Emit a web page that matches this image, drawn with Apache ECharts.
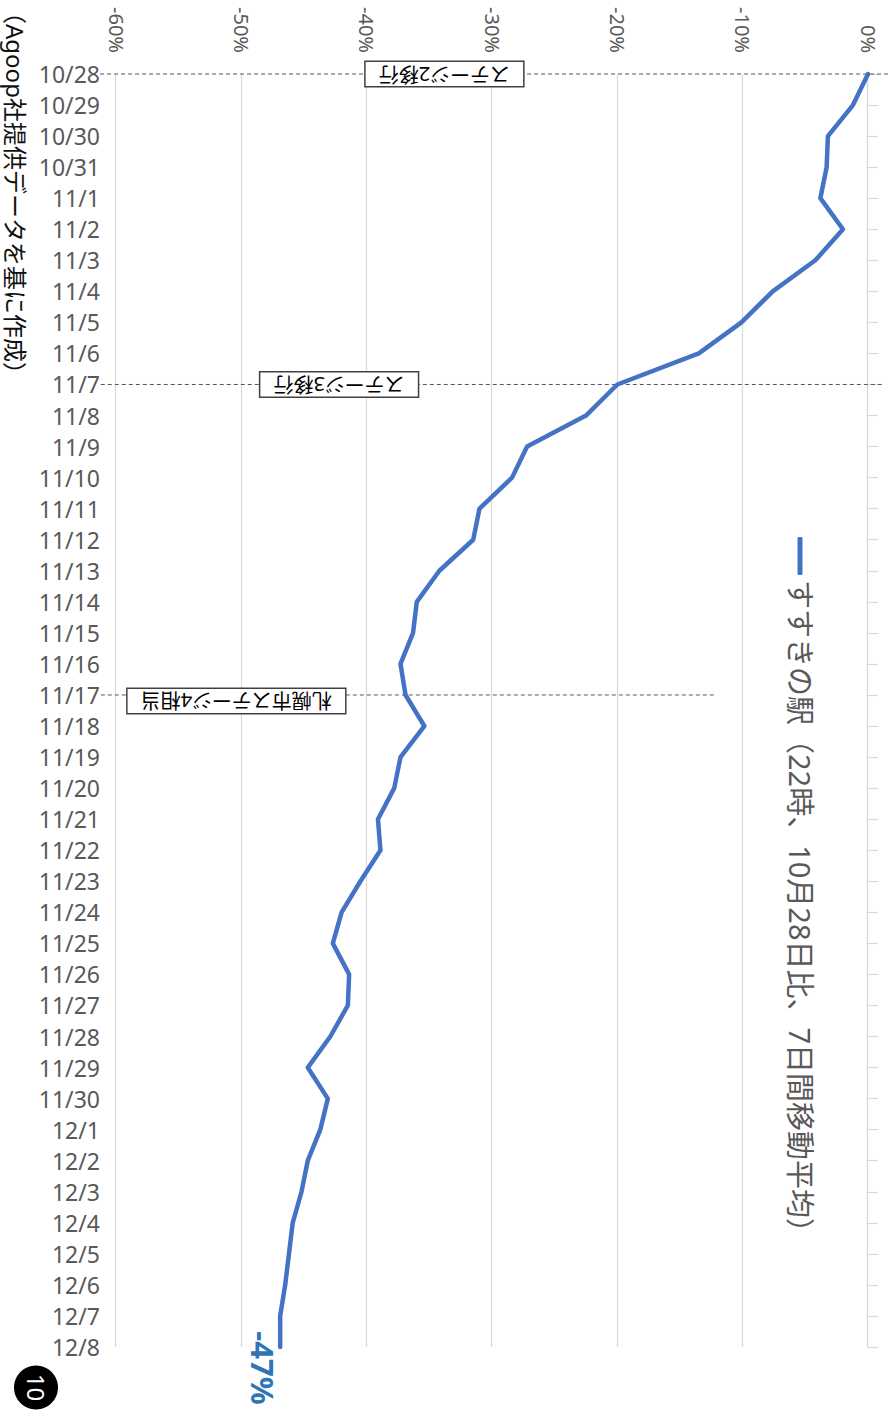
<!DOCTYPE html>
<html><head><meta charset="utf-8">
<script src="https://cdn.jsdelivr.net/npm/echarts@6/dist/echarts.min.js"></script>
<style>
html,body{margin:0;padding:0;width:888px;height:1423px;overflow:hidden;background:#fff;}
#chart{position:absolute;left:0;top:0;width:1423px;height:888px;transform-origin:0 0;transform:translate(888px,0) rotate(90deg);}
</style></head><body><div id="chart"></div>
<script>
// ---- data ----
const categories = ['10/28','10/29','10/30','10/31','11/1','11/2','11/3','11/4','11/5','11/6','11/7','11/8','11/9','11/10','11/11','11/12','11/13','11/14','11/15','11/16','11/17','11/18','11/19','11/20','11/21','11/22','11/23','11/24','11/25','11/26','11/27','11/28','11/29','11/30','12/1','12/2','12/3','12/4','12/5','12/6','12/7','12/8'];
const values = [0,-1.2,-3.2,-3.3,-3.8,-2.0,-4.2,-7.6,-10.1,-13.5,-20.0,-22.5,-27.2,-28.4,-31.0,-31.5,-34.2,-36.0,-36.3,-37.3,-36.9,-35.4,-37.3,-37.8,-39.1,-38.9,-40.5,-42.0,-42.7,-41.4,-41.5,-42.9,-44.7,-43.1,-43.7,-44.7,-45.2,-45.9,-46.2,-46.5,-46.9,-46.9];
const seriesName = 'すすきの駅（22時、10月28日比、7日間移動平均）';
const valueMin = -60, valueMax = 0, valueStep = 10;
const phaseDates = ['10/28','11/7','11/17'];
const phaseLabels = ['ステージ2移行','ステージ3移行','札幌市ステージ4相当'];
const sourceNote = '（Agoop社提供データを基に作成）';
const pageNumber = '10';

// ---- layout / style ----
const FONT = "'Noto Sans', 'Noto Sans CJK JP', sans-serif";
const phaseLayout = [
  {from: 1.6, to: -61.3, boxAt: -33.8, dx: 0},
  {from: 1.1, to: -61.3, boxAt: -42.2, dx: 0},
  {from: -12.3, to: -61.3, boxAt: -50.4, dx: 6}
];

const chart = echarts.init(document.getElementById('chart'), null, {renderer: 'svg', width: 1423, height: 888});

const lastIdx = values.length - 1;
const seriesData = values.map((v, i) => i === lastIdx ? {
  value: v,
  label: {show: true, position: 'bottom', distance: 2, offset: [21, 0],
    formatter: p => Math.round(p.value) + '%', fontSize: 31, fontWeight: 'bold',
    color: '#2e75b6', fontFamily: FONT}
} : v);

chart.setOption({
  animation: false,
  backgroundColor: '#fff',
  textStyle: {fontFamily: FONT},
  grid: {left: 74, right: 76, top: 20, bottom: 116, containLabel: false},
  legend: {
    left: 537, top: 71, padding: 0, icon: 'roundRect', itemWidth: 38, itemHeight: 5, itemGap: 10,
    textStyle: {fontSize: 29, color: '#595959', fontFamily: FONT, lineHeight: 34},
    data: [seriesName]
  },
  xAxis: [
    {type: 'category', data: categories, position: 'top', boundaryGap: false,
     axisLine: {show: true, lineStyle: {color: '#d9d9d9', width: 1.2}},
     axisTick: {show: true, length: 10, interval: 0, lineStyle: {color: '#d9d9d9', width: 1.2}},
     axisLabel: {show: false}, splitLine: {show: false}},
    {type: 'category', data: categories, position: 'bottom', boundaryGap: false,
     axisLine: {show: false, onZero: false}, axisTick: {show: false},
     axisLabel: {show: true, interval: 0, rotate: 90, margin: 16, fontSize: 23, color: '#595959', fontFamily: FONT},
     splitLine: {show: false}}
  ],
  yAxis: {
    type: 'value', min: valueMin, max: valueMax, interval: valueStep,
    axisLine: {show: false}, axisTick: {show: false},
    axisLabel: {formatter: '{value}%', fontSize: 20, color: '#595959', margin: 21, fontFamily: FONT},
    splitLine: {show: true, lineStyle: {color: '#d9d9d9', width: 1.2}}
  },
  series: [{
    type: 'line', name: seriesName, xAxisIndex: 0, yAxisIndex: 0,
    data: seriesData, symbol: 'circle', symbolSize: 0, showSymbol: true,
    lineStyle: {color: '#4472c4', width: 4.5, cap: 'round', join: 'round'},
    itemStyle: {color: '#4472c4'}, z: 5
  }]
});

const toPx = (cat, v) => chart.convertToPixel({seriesIndex: 0}, [categories.indexOf(cat), v]);
const graphics = [];
phaseDates.forEach((d, i) => {
  const L = phaseLayout[i];
  const p1 = toPx(d, L.from), p2 = toPx(d, L.to), pb = toPx(d, L.boxAt);
  graphics.push({type: 'line', z: 1, shape: {x1: p1[0], y1: p1[1], x2: p2[0], y2: p2[1]},
    style: {stroke: '#595959', lineWidth: 1, lineDash: [4, 3]}});
  graphics.push({type: 'text', z: 20, x: pb[0] + L.dx, y: pb[1], rotation: -Math.PI / 2,
    style: {text: phaseLabels[i], font: '20px ' + FONT, fill: '#000', align: 'center', verticalAlign: 'middle',
      backgroundColor: '#fff', borderColor: '#404040', borderWidth: 1.5, padding: [2, 13]}});
});
graphics.push({type: 'text', z: 20, x: 0, y: 873,
  style: {text: sourceNote, font: '24px ' + FONT, fill: '#111', align: 'left', verticalAlign: 'middle'}});
graphics.push({type: 'circle', z: 20, shape: {cx: 1387.5, cy: 852, r: 22}, style: {fill: '#000'}});
graphics.push({type: 'text', z: 21, x: 1387.5, y: 852,
  style: {text: pageNumber, font: '24px ' + FONT, fill: '#fff', align: 'center', verticalAlign: 'middle'}});
chart.setOption({graphic: graphics});
</script>
</body></html>
